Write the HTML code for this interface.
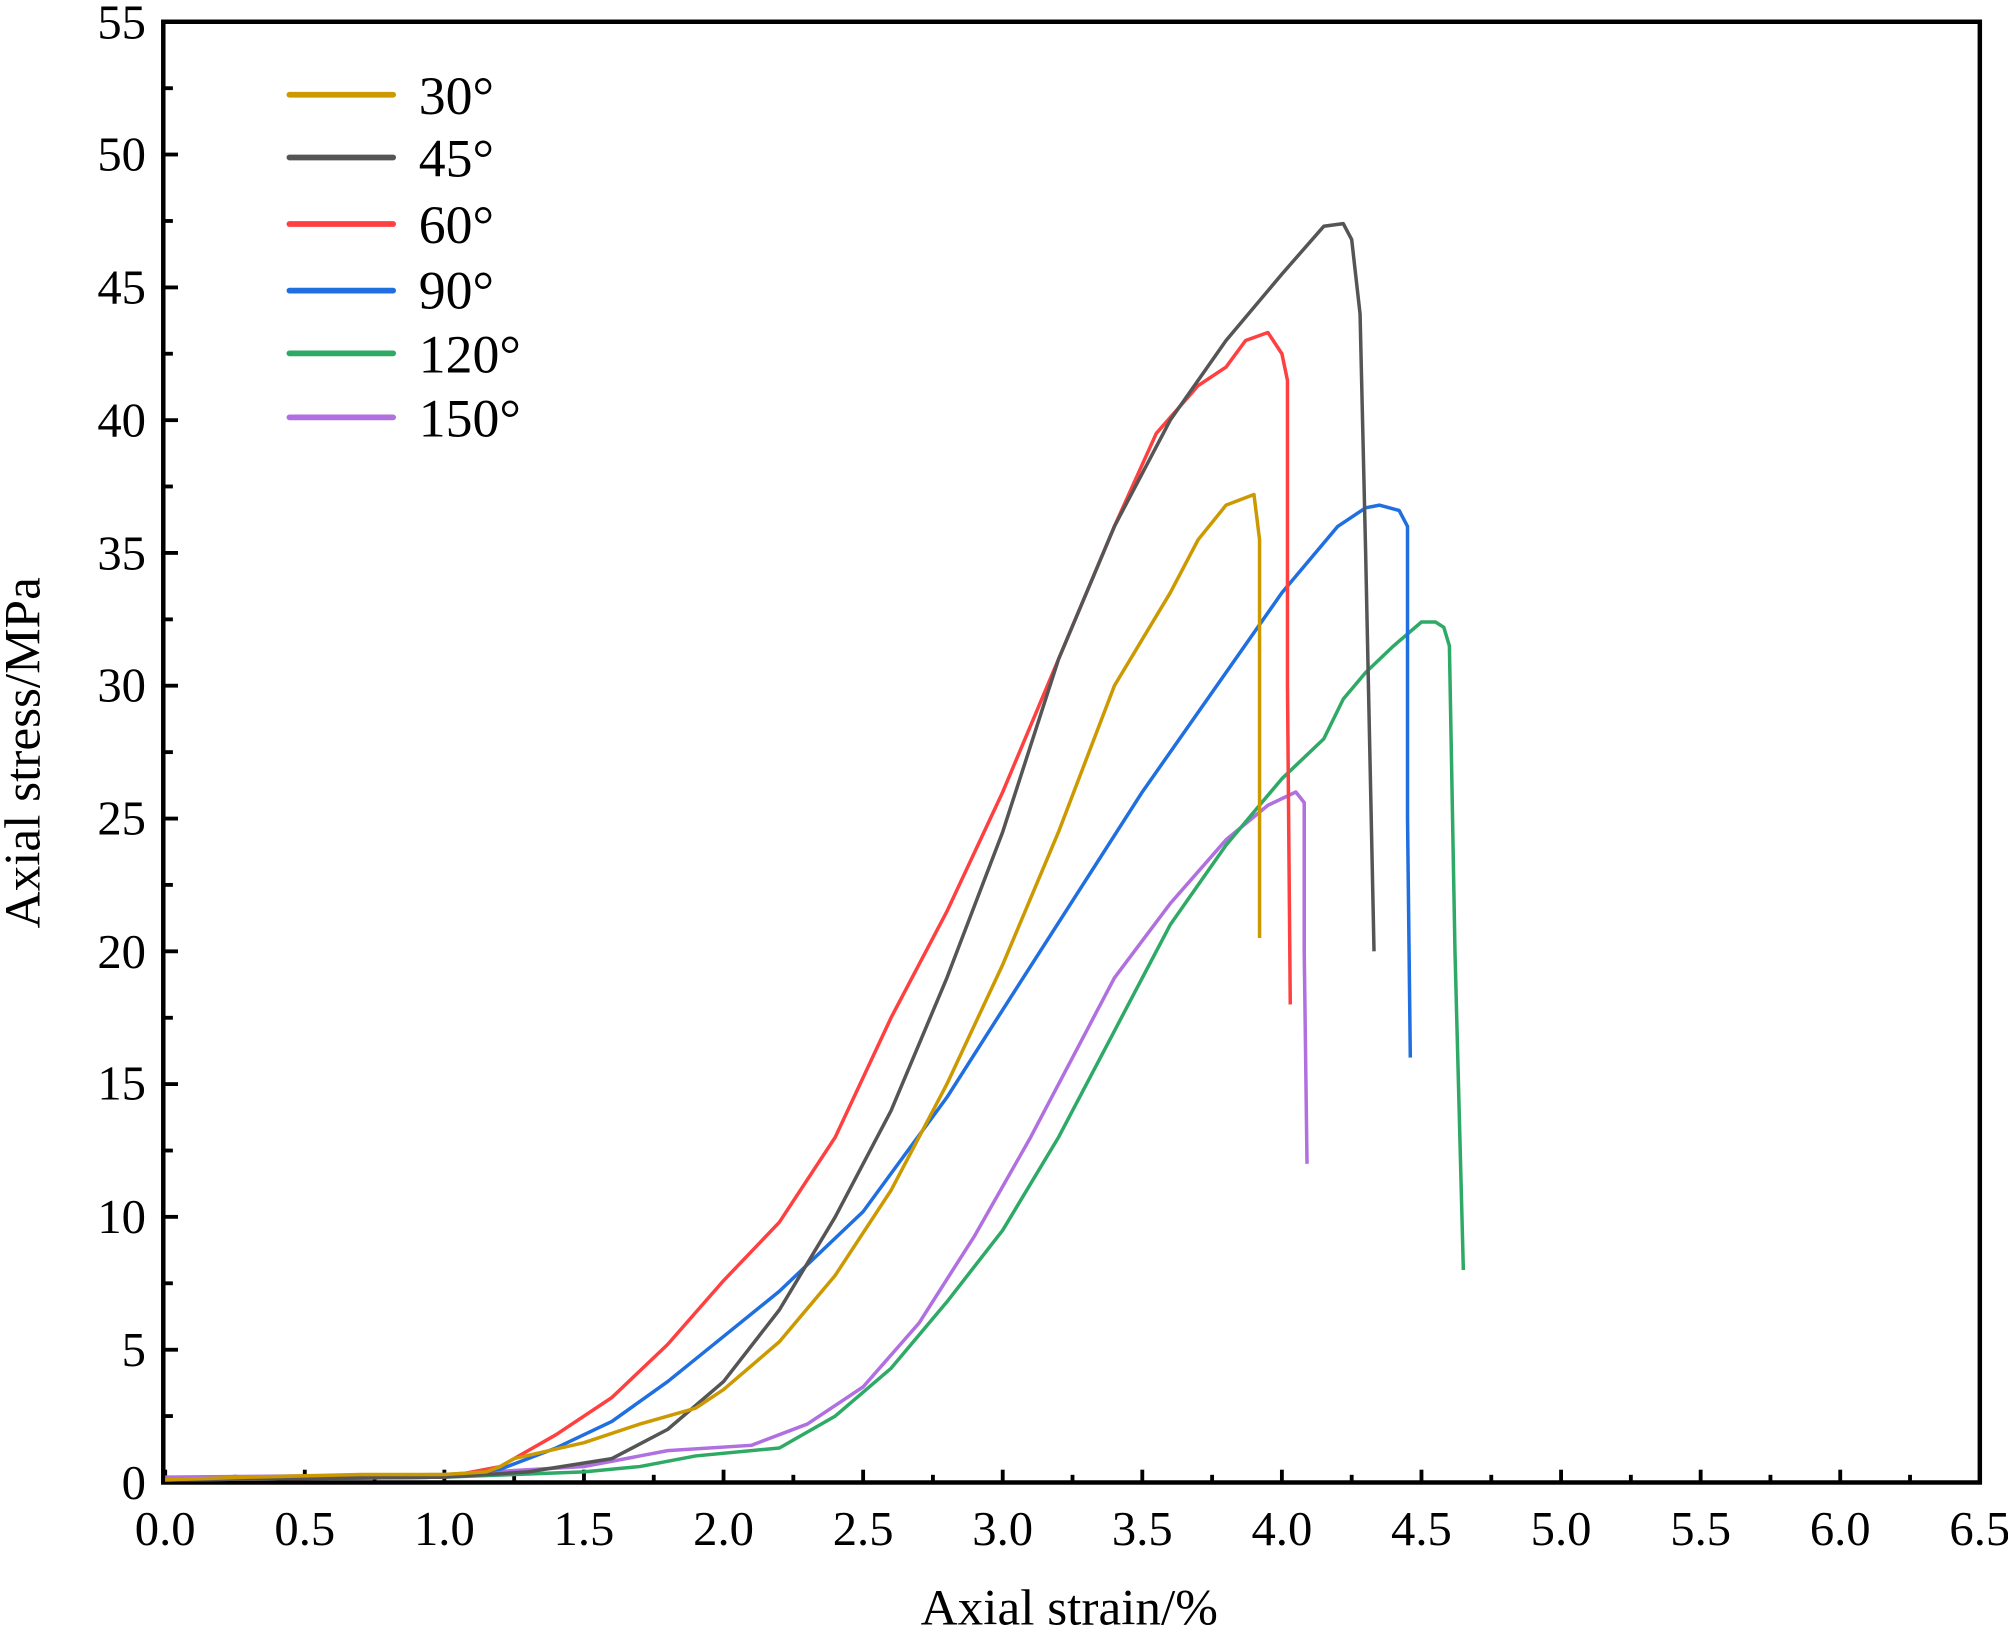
<!DOCTYPE html>
<html><head><style>html,body{margin:0;padding:0;background:#fff}svg{display:block}</style></head>
<body>
<svg width="2008" height="1631" viewBox="0 0 1568 1274" preserveAspectRatio="none" xmlns="http://www.w3.org/2000/svg" font-family="Liberation Serif, serif">
<rect width="1568" height="1274" fill="#fff"/>
<g stroke="#000" stroke-width="3">
<line x1="129" y1="1158" x2="129" y2="1148"/><line x1="183.5" y1="1158" x2="183.5" y2="1152"/>
<line x1="238" y1="1158" x2="238" y2="1148"/><line x1="292.5" y1="1158" x2="292.5" y2="1152"/>
<line x1="347" y1="1158" x2="347" y2="1148"/><line x1="401.5" y1="1158" x2="401.5" y2="1152"/>
<line x1="456" y1="1158" x2="456" y2="1148"/><line x1="510.5" y1="1158" x2="510.5" y2="1152"/>
<line x1="565" y1="1158" x2="565" y2="1148"/><line x1="619.5" y1="1158" x2="619.5" y2="1152"/>
<line x1="674" y1="1158" x2="674" y2="1148"/><line x1="728.5" y1="1158" x2="728.5" y2="1152"/>
<line x1="783" y1="1158" x2="783" y2="1148"/><line x1="837.5" y1="1158" x2="837.5" y2="1152"/>
<line x1="892" y1="1158" x2="892" y2="1148"/><line x1="946.5" y1="1158" x2="946.5" y2="1152"/>
<line x1="1001" y1="1158" x2="1001" y2="1148"/><line x1="1055.5" y1="1158" x2="1055.5" y2="1152"/>
<line x1="1110" y1="1158" x2="1110" y2="1148"/><line x1="1164.5" y1="1158" x2="1164.5" y2="1152"/>
<line x1="1219" y1="1158" x2="1219" y2="1148"/><line x1="1273.5" y1="1158" x2="1273.5" y2="1152"/>
<line x1="1328" y1="1158" x2="1328" y2="1148"/><line x1="1382.5" y1="1158" x2="1382.5" y2="1152"/>
<line x1="1437" y1="1158" x2="1437" y2="1148"/><line x1="1491.5" y1="1158" x2="1491.5" y2="1152"/>
<line x1="129" y1="1054.3" x2="139" y2="1054.3"/><line x1="129" y1="1106.1" x2="135" y2="1106.1"/>
<line x1="129" y1="950.5" x2="139" y2="950.5"/><line x1="129" y1="1002.4" x2="135" y2="1002.4"/>
<line x1="129" y1="846.8" x2="139" y2="846.8"/><line x1="129" y1="898.7" x2="135" y2="898.7"/>
<line x1="129" y1="743.1" x2="139" y2="743.1"/><line x1="129" y1="795" x2="135" y2="795"/>
<line x1="129" y1="639.4" x2="139" y2="639.4"/><line x1="129" y1="691.2" x2="135" y2="691.2"/>
<line x1="129" y1="535.6" x2="139" y2="535.6"/><line x1="129" y1="587.5" x2="135" y2="587.5"/>
<line x1="129" y1="431.9" x2="139" y2="431.9"/><line x1="129" y1="483.8" x2="135" y2="483.8"/>
<line x1="129" y1="328.2" x2="139" y2="328.2"/><line x1="129" y1="380" x2="135" y2="380"/>
<line x1="129" y1="224.5" x2="139" y2="224.5"/><line x1="129" y1="276.3" x2="135" y2="276.3"/>
<line x1="129" y1="120.7" x2="139" y2="120.7"/><line x1="129" y1="172.6" x2="135" y2="172.6"/>
<line x1="129" y1="68.9" x2="135" y2="68.9"/>
</g>
<rect x="127.5" y="17" width="1418.5" height="1141" fill="none" stroke="#000" stroke-width="3.5"/>
<g font-size="38" text-anchor="end" fill="#000">
<text x="114" y="1171">0</text><text x="114" y="1067">5</text><text x="114" y="963">10</text><text x="114" y="859">15</text>
<text x="114" y="756">20</text><text x="114" y="652">25</text><text x="114" y="548">30</text><text x="114" y="445">35</text>
<text x="114" y="341">40</text><text x="114" y="237">45</text><text x="114" y="133">50</text><text x="114" y="30">55</text>
</g>
<g font-size="38" text-anchor="middle" fill="#000">
<text x="129" y="1207">0.0</text><text x="238" y="1207">0.5</text><text x="347" y="1207">1.0</text><text x="456" y="1207">1.5</text>
<text x="565" y="1207">2.0</text><text x="674" y="1207">2.5</text><text x="783" y="1207">3.0</text><text x="892" y="1207">3.5</text>
<text x="1001" y="1207">4.0</text><text x="1110" y="1207">4.5</text><text x="1219" y="1207">5.0</text><text x="1328" y="1207">5.5</text>
<text x="1437" y="1207">6.0</text><text x="1546" y="1207">6.5</text>
<text x="835" y="1269" font-size="40">Axial strain/%</text>
<text transform="translate(31,588) rotate(-90)" font-size="40">Axial stress/MPa</text>
</g>
<g transform="translate(129,1158) scale(218,-20.745)" fill="none" stroke-width="3.5" stroke-linejoin="round">
<polyline vector-effect="non-scaling-stroke" stroke="#B070E0" points="0,0.2 1.0,0.3 1.5,0.6 1.7,1.0 1.8,1.2 2.1,1.4 2.3,2.2 2.5,3.6 2.7,6 2.9,9.3 3.1,13 3.3,17 3.4,19 3.6,21.8 3.8,24.2 3.95,25.5 4.05,26 4.08,25.6 4.08,20 4.09,12"/>
<polyline vector-effect="non-scaling-stroke" stroke="#2EAA66" points="0,0.1 1.0,0.2 1.5,0.4 1.7,0.6 1.9,1.0 2.2,1.3 2.4,2.5 2.6,4.3 2.8,6.8 3.0,9.5 3.2,13 3.4,17 3.6,21 3.8,24 4.0,26.5 4.15,28 4.22,29.5 4.3,30.5 4.4,31.5 4.5,32.4 4.55,32.4 4.58,32.2 4.6,31.5 4.62,20 4.65,8"/>
<polyline vector-effect="non-scaling-stroke" stroke="#1F6FE0" points="0,0.1 1.0,0.2 1.2,0.5 1.4,1.3 1.6,2.3 1.8,3.8 2.0,5.5 2.2,7.2 2.5,10.2 2.8,14.5 3.0,17.8 3.5,26 4.0,33.5 4.2,36 4.3,36.7 4.35,36.8 4.42,36.6 4.45,36 4.45,25 4.46,16"/>
<polyline vector-effect="non-scaling-stroke" stroke="#FF4040" points="0,0.1 1.0,0.2 1.2,0.6 1.4,1.8 1.6,3.2 1.8,5.2 2.0,7.6 2.2,9.8 2.4,13 2.6,17.5 2.8,21.5 3.0,26 3.2,31 3.4,36 3.55,39.5 3.7,41.3 3.8,42 3.87,43 3.95,43.3 4.0,42.5 4.02,41.5 4.02,30 4.03,18"/>
<polyline vector-effect="non-scaling-stroke" stroke="#555555" points="0,0.1 1.0,0.2 1.3,0.4 1.6,0.9 1.8,2 2.0,3.8 2.2,6.5 2.4,10 2.6,14 2.8,19 3.0,24.5 3.2,31 3.4,36 3.6,40 3.8,43 4.0,45.5 4.15,47.3 4.22,47.4 4.25,46.8 4.28,44 4.3,35 4.33,20"/>
<polyline vector-effect="non-scaling-stroke" stroke="#CC9900" points="0,0.1 0.3,0.2 0.7,0.3 1.0,0.3 1.15,0.4 1.2,0.6 1.25,0.9 1.5,1.5 1.7,2.2 1.9,2.8 2.0,3.5 2.2,5.3 2.4,7.8 2.6,11 2.8,15 3.0,19.5 3.2,24.5 3.4,30 3.6,33.5 3.7,35.5 3.8,36.8 3.9,37.2 3.92,35.5 3.92,20.5"/>
</g>
<g stroke-width="4.5" stroke-linecap="round">
<line x1="226" y1="74" x2="307" y2="74" stroke="#CC9900"/>
<line x1="226" y1="123" x2="307" y2="123" stroke="#555555"/>
<line x1="226" y1="175" x2="307" y2="175" stroke="#FF4040"/>
<line x1="226" y1="227" x2="307" y2="227" stroke="#1F6FE0"/>
<line x1="226" y1="276" x2="307" y2="276" stroke="#2EAA66"/>
<line x1="226" y1="326" x2="307" y2="326" stroke="#B070E0"/>
</g>
<g font-size="42" fill="#000">
<text x="327" y="89">30°</text><text x="327" y="138">45°</text><text x="327" y="190">60°</text>
<text x="327" y="241">90°</text><text x="327" y="291">120°</text><text x="327" y="341">150°</text>
</g>
</svg>
</body></html>
